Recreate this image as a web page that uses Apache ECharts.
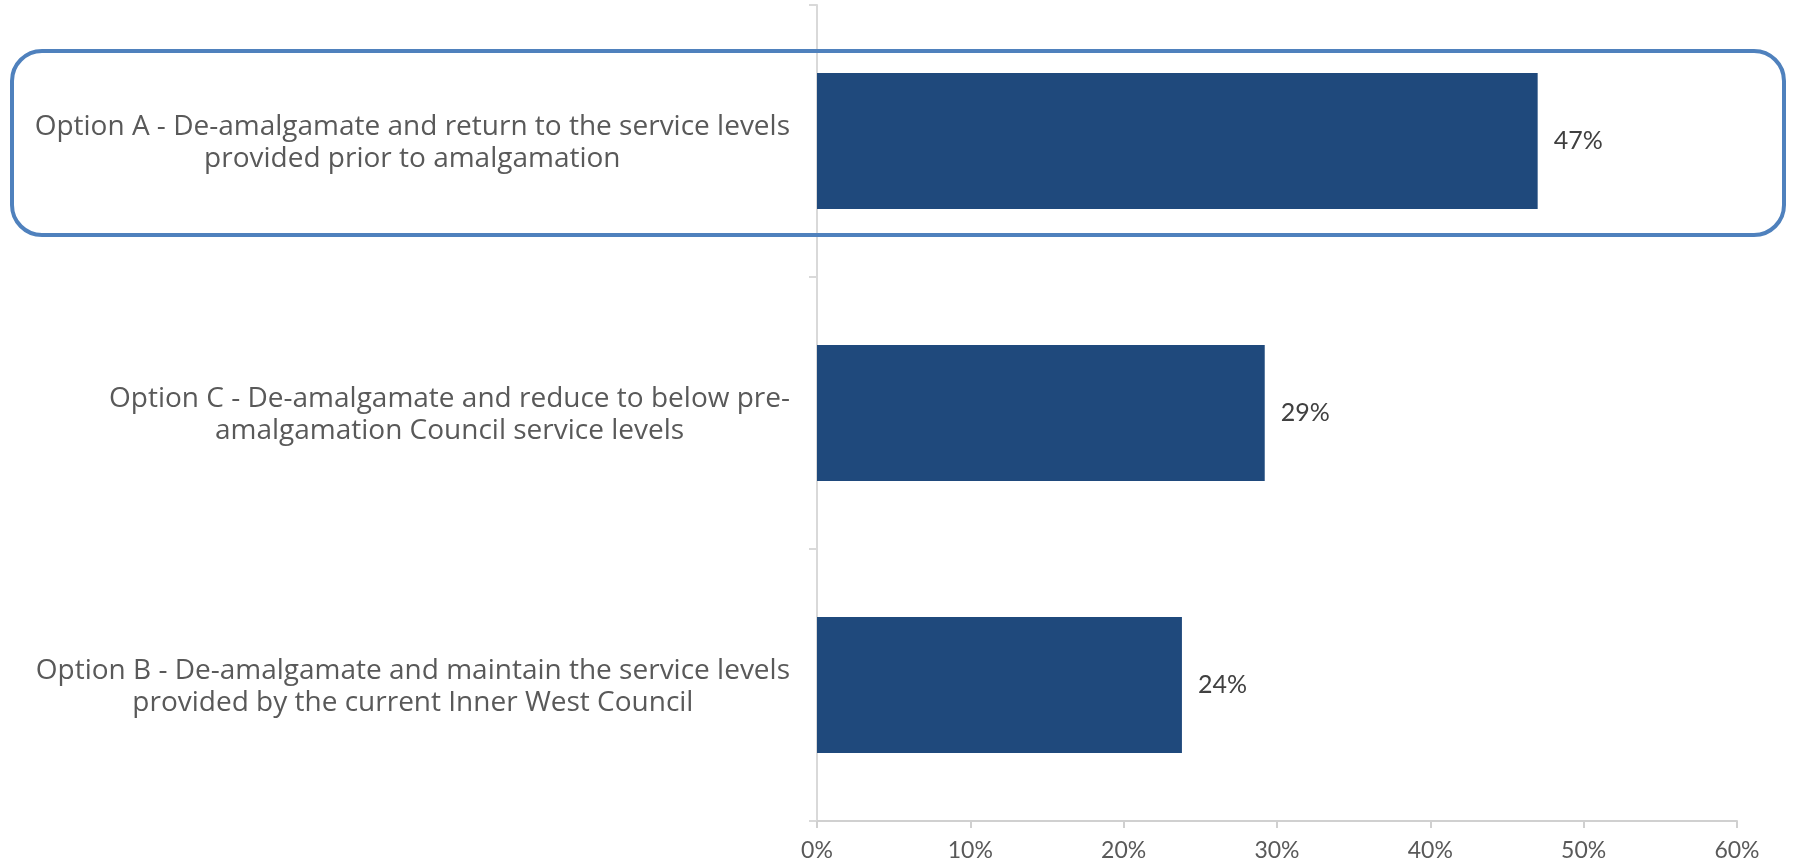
<!DOCTYPE html>
<html>
<head>
<meta charset="utf-8">
<script src="https://cdn.jsdelivr.net/npm/echarts@6/dist/echarts.min.js"></script>
<style>
html,body{margin:0;padding:0;background:#fff;}
#chart{width:1793px;height:863px;}
</style>
</head>
<body>
<div id="chart"></div>
<script>
// Data
const categories = [
  "Option A - De-amalgamate and return to the service levels\nprovided prior to amalgamation",
  "Option C - De-amalgamate and reduce to below pre-\namalgamation Council service levels",
  "Option B - De-amalgamate and maintain the service levels\nprovided by the current Inner West Council"
];
const values = [47.0, 29.2, 23.8];
const tickLabels = ["0%", "10%", "20%", "30%", "40%", "50%", "60%"];
const highlightIndex = 0;

const FONT = "'Open Sans', Lato, sans-serif";
const chart = echarts.init(document.getElementById('chart'), null, {renderer: 'canvas'});

const option = {
  animation: false,
  backgroundColor: '#ffffff',
  grid: {left: 817, right: 56, top: 5, bottom: 42, containLabel: false},
  xAxis: {
    type: 'value',
    min: 0, max: 60, interval: 10,
    splitLine: {show: false},
    axisLine: {show: true, lineStyle: {color: '#d0d0d0', width: 2}},
    axisTick: {show: true, length: 7, lineStyle: {color: '#d0d0d0', width: 2}},
    axisLabel: {
      margin: 18,
      color: '#595959',
      fontFamily: "Lato, sans-serif",
      fontSize: 23,
      formatter: function (v) { return tickLabels[Math.round(v / 10)]; }
    }
  },
  yAxis: {
    type: 'category',
    inverse: true,
    data: categories,
    axisLine: {show: true, lineStyle: {color: '#d9d9d9', width: 2}},
    axisTick: {show: true, length: 8, lineStyle: {color: '#d9d9d9', width: 2}},
    axisLabel: {
      margin: 27,
      align: 'right',
      padding: [5, 0, 0, 0],
      formatter: function (v) {
        return v.split('\n').map(function (l) { return '{c|' + l + '}'; }).join('\n');
      },
      rich: {
        c: {align: 'center', color: '#595959', fontFamily: FONT, fontSize: 28, lineHeight: 32}
      }
    }
  },
  series: [{
    type: 'bar',
    data: values,
    barWidth: '50%',
    itemStyle: {color: '#1F497C'},
    label: {
      show: true,
      position: 'right',
      distance: 16,
      color: '#404040',
      fontFamily: "Lato, sans-serif",
      fontSize: 25,
      formatter: function (p) { return Math.round(p.value) + '%'; }
    }
  }]
};
chart.setOption(option);

// Rounded highlight frame around the first category band
const cy = chart.convertToPixel({yAxisIndex: 0}, highlightIndex) + 2;
const halfH = 92;
chart.setOption({
  graphic: [{
    type: 'rect',
    z: 100,
    silent: true,
    shape: {x: 12, y: cy - halfH, width: 1772, height: halfH * 2, r: 30},
    style: {fill: 'none', stroke: '#4F81BD', lineWidth: 4}
  }]
});
</script>
</body>
</html>
